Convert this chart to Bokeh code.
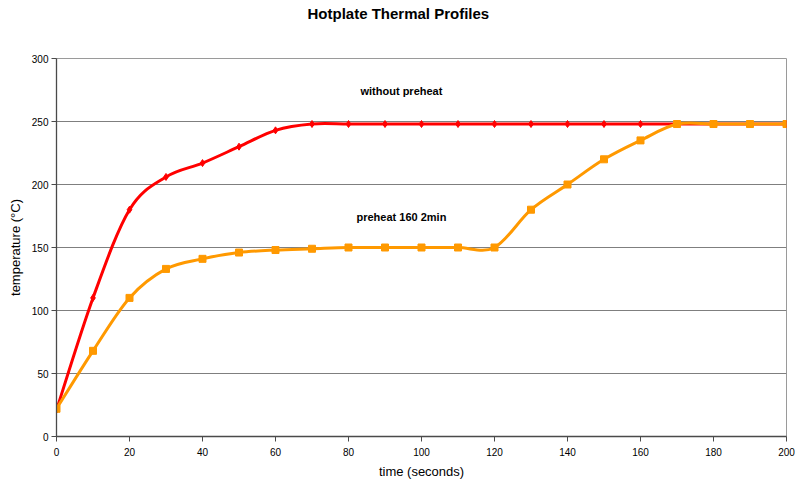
from bokeh.plotting import figure
from bokeh.models import Range1d, FixedTicker, Title
from bokeh.core.properties import value
from bokeh.embed import file_html
from bokeh.resources import INLINE

# ---- data ----
time_s = [0, 10, 20, 30, 40, 50, 60, 70, 80, 90, 100, 110, 120, 130, 140, 150, 160, 170, 180, 190, 200]
without_preheat = [21, 110, 180, 206, 217, 230, 243, 248, 248, 248, 248, 248, 248, 248, 248, 248, 248, 248, 248, 248, 248]
preheat_160_2min = [22, 68, 110, 133, 141, 146, 148, 149, 150, 150, 150, 150, 150, 180, 200, 220, 235, 248, 248, 248, 248]
x_ticks = [0, 20, 40, 60, 80, 100, 120, 140, 160, 180, 200]
y_ticks = [0, 50, 100, 150, 200, 250, 300]
label_texts = ["without preheat", "preheat 160 2min"]
label_x = [94.5, 94.5]
label_y = [274, 174]
title_text = "Hotplate Thermal Profiles"

FONT = "Liberation Sans"


def smooth_segments(xs, ys):
    """Catmull-Rom style Bezier control points (Excel-like smoothing)."""
    n = len(xs)
    seg = dict(x0=[], y0=[], x1=[], y1=[], cx0=[], cy0=[], cx1=[], cy1=[])
    for i in range(n - 1):
        xp = xs[i - 1] if i > 0 else xs[i]
        yp = ys[i - 1] if i > 0 else ys[i]
        xn = xs[i + 2] if i + 2 < n else xs[i + 1]
        yn = ys[i + 2] if i + 2 < n else ys[i + 1]
        seg["x0"].append(xs[i]); seg["y0"].append(ys[i])
        seg["x1"].append(xs[i + 1]); seg["y1"].append(ys[i + 1])
        seg["cx0"].append(xs[i] + (xs[i + 1] - xp) / 6.0)
        seg["cy0"].append(ys[i] + (ys[i + 1] - yp) / 6.0)
        seg["cx1"].append(xs[i + 1] - (xn - xs[i]) / 6.0)
        seg["cy1"].append(ys[i + 1] - (yn - ys[i]) / 6.0)
    return seg


p = figure(width=795, height=481, output_backend="svg", toolbar_location=None,
           x_range=Range1d(0, 200), y_range=Range1d(0, 300),
           min_border_left=56, min_border_right=9, min_border_top=58, min_border_bottom=45)

# main title (outermost in the top panel) plus an invisible spacer next to the plot area
p.title = Title(text=title_text, align="left", offset=251,
                text_font=FONT, text_font_size="15px", text_font_style="bold",
                text_color="#000000", standoff=0)
p.add_layout(Title(text=" ", text_font_size="10px", standoff=24, text_color="white"), "above")

p.background_fill_color = "white"
p.border_fill_color = "white"
p.outline_line_color = "#9a9a9a"
p.outline_line_width = 1

p.xgrid.grid_line_color = None
p.ygrid.grid_line_color = "#7f7f7f"
p.ygrid.grid_line_width = 1
p.ygrid.ticker = FixedTicker(ticks=y_ticks)

for ax in (p.xaxis[0], p.yaxis[0]):
    ax.axis_line_color = "#4a4a4a"
    ax.axis_line_width = 1.3
    ax.major_tick_line_color = "#4a4a4a"
    ax.major_tick_in = 0
    ax.major_tick_out = 5
    ax.minor_tick_line_color = None
    ax.major_label_text_font = FONT
    ax.major_label_text_font_size = "10px"
    ax.major_label_text_color = "#000000"
    ax.axis_label_text_font = FONT
    ax.axis_label_text_font_size = "13px"
    ax.axis_label_text_font_style = "normal"
    ax.axis_label_text_color = "#000000"

p.xaxis.ticker = FixedTicker(ticks=x_ticks)
p.yaxis.ticker = FixedTicker(ticks=y_ticks)
p.xaxis.axis_label = "time (seconds)"
p.yaxis.axis_label = "temperature (°C)"
p.xaxis.major_label_standoff = 6
p.xaxis.axis_label_standoff = 5
p.yaxis.major_label_standoff = 3
p.yaxis.axis_label_standoff = 6

# red: without preheat
s1 = smooth_segments(time_s, without_preheat)
p.bezier(x0=s1["x0"], y0=s1["y0"], x1=s1["x1"], y1=s1["y1"],
         cx0=s1["cx0"], cy0=s1["cy0"], cx1=s1["cx1"], cy1=s1["cy1"],
         line_color="#FF0000", line_width=3)
p.scatter(time_s, without_preheat, marker="diamond", size=7,
          fill_color="#FF0000", line_color="#FF0000")

# orange: preheat 160 2min
s2 = smooth_segments(time_s, preheat_160_2min)
p.bezier(x0=s2["x0"], y0=s2["y0"], x1=s2["x1"], y1=s2["y1"],
         cx0=s2["cx0"], cy0=s2["cy0"], cx1=s2["cx1"], cy1=s2["cy1"],
         line_color="#FF9900", line_width=3)
p.scatter(time_s, preheat_160_2min, marker="square", size=7,
          fill_color="#FF9900", line_color="#FF9900")

p.text(x=label_x, y=label_y, text=label_texts, text_font=value(FONT),
       text_font_size="11px", text_font_style="bold", text_color="#000000",
       text_align="center", text_baseline="middle")

open("out.html", "w").write(file_html(p, INLINE))
